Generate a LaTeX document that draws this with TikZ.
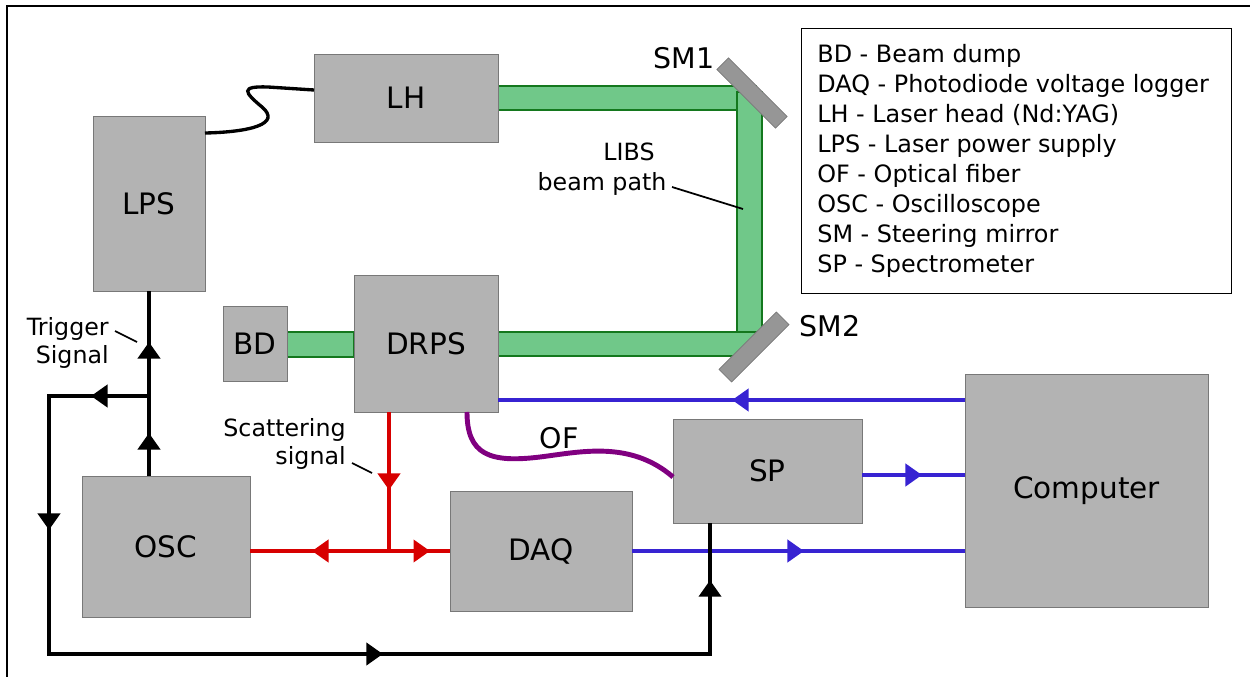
\documentclass[tikz,border=0pt]{standalone}
\usepackage{fontspec}
\setmainfont{DejaVu Sans}
\usetikzlibrary{arrows.meta,decorations.markings}
\definecolor{boxgray}{RGB}{179,179,179}
\definecolor{boxedge}{RGB}{120,120,120}
\definecolor{beamfill}{RGB}{112,200,137}
\definecolor{beamedge}{RGB}{20,120,30}
\definecolor{sigblue}{RGB}{55,35,210}
\definecolor{sigred}{RGB}{215,0,0}
\definecolor{fiber}{RGB}{128,0,128}
\definecolor{mirrorgray}{RGB}{150,150,150}
\begin{document}
\begin{tikzpicture}[x=0.02cm,y=-0.02cm,
  box/.style={draw=boxedge, fill=boxgray, line width=0.5pt, inner sep=0pt, outer sep=0pt, font=\fontsize{16.8}{19}\selectfont},
  mirror/.style={draw=boxedge, fill=mirrorgray, line width=0.4pt, inner sep=0pt, outer sep=0pt},
  beam/.style={draw=beamedge, fill=beamfill, line width=0.8pt},
  sig/.style={line width=2.3pt},
  tipat/.style={postaction={decorate, decoration={markings, mark=at position #1 with {\arrow{Triangle[length=0.33cm,width=0.44cm]}}}}},
  small/.style={font=\fontsize{13.5}{16.3}\selectfont, inner sep=0pt},
  big/.style={font=\fontsize{16.2}{19}\selectfont, inner sep=0pt},
  pointer/.style={line width=1pt},
]
\useasboundingbox (0,0) rectangle (1250,676);
\draw[line width=1.1pt] (7,680) -- (7,6) -- (1255,6);

% beams
\draw[beam] (287,332) rectangle (354,357);
\draw[beam] (498,86) rectangle (756,110);
\draw[beam] (737,92) rectangle (762,340);
\draw[beam] (498,332) rectangle (756,356);

% mirrors
\node[mirror, minimum width=1.66cm, minimum height=0.33cm, rotate=-45] (SM1) at (752,93) {};
\node[mirror, minimum width=1.62cm, minimum height=0.36cm, rotate=45] (SM2) at (754,347) {};

% boxes
\node[box, minimum width=3.68cm, minimum height=1.76cm] (LH) at (406,98) {LH};
\node[box, minimum width=2.24cm, minimum height=3.5cm] (LPS) at (149,203.5) {LPS};
\node[box, minimum width=2.88cm, minimum height=2.74cm] (DRPS) at (426,343.5) {DRPS};
\node[box, minimum width=1.28cm, minimum height=1.5cm] (BD) at (255,343.5) {BD};
\node[box, minimum width=3.36cm, minimum height=2.82cm] (OSC) at (166,546.5) {OSC};
\node[box, minimum width=3.64cm, minimum height=2.4cm] (DAQ) at (541,551) {DAQ};
\node[box, minimum width=3.78cm, minimum height=2.08cm] (SP) at (767.5,471) {SP};
\node[box, minimum width=4.86cm, minimum height=4.66cm] (PC) at (1086.5,490.5) {Computer};

% legend
\node[draw, line width=0.8pt, anchor=north west, minimum width=8.6cm, minimum height=5.3cm,
      inner sep=0pt] (legend) at (801,28) {};
\node[anchor=west, align=left, inner sep=0pt,
      font=\fontsize{13.6}{17.07}\selectfont] (legtext) at ([xshift=0.32cm]legend.west)
  {BD - Beam dump\\
   DAQ - Photodiode voltage logger\\
   LH - Laser head (Nd:YAG)\\
   LPS - Laser power supply\\
   OF - Optical fiber\\
   OSC - Oscilloscope\\
   SM - Steering mirror\\
   SP - Spectrometer};

% labels
\node[big] (SM1l) at (684,58) {SM1};
\node[big] (SM2l) at (830,326) {SM2};
\node[small] (libsA) at (629,152) {LIBS};
\node[small] (libsB) at (602,184) {beam path};
\node[small, align=right, anchor=east] (trig) at (109,343) {Trigger\\Signal};
\node[small, align=right, anchor=east] (scat) at (346,444) {Scattering\\signal};
\node[big] (OFl) at (559,438) {OF};

% pointers
\coordinate (pA1) at (672,187); \coordinate (pA2) at (743,209);
\coordinate (pB1) at (115,331); \coordinate (pB2) at (137,342);
\coordinate (pC1) at (352,463); \coordinate (pC2) at (372,473);
\draw[pointer] (pA1) -- (pA2);
\draw[pointer] (pB1) -- (pB2);
\draw[pointer] (pC1) -- (pC2);

% helper coordinates
\coordinate (jt) at (149,396);
\coordinate (lc) at (49,654);
\coordinate (spin) at (710,523);
\coordinate (rj) at (389,551);
\coordinate (yA) at (0,400);
\coordinate (yB) at (0,475);

% cable LPS - LH
\draw[line width=1.9pt] ([yshift=1.41cm]LPS.east) .. controls (250,132) and (282,124) .. (262,107)
   .. controls (244,92) and (240,86) .. (268,87) -- ([yshift=0.16cm]LH.west);

% optical fiber
\draw[line width=2.8pt, color=fiber] ([xshift=0.82cm]DRPS.south) .. controls (467,455) and (490,463) .. (540,457)
   .. controls (580,452) and (630,440) .. ([yshift=-0.12cm]SP.west);

% blue data lines
\draw[sig, color=sigblue, tipat=4.66cm] (PC.west |- yA) -- (DRPS.east |- yA);
\draw[sig, color=sigblue, tipat=1.2cm] (SP.east |- yB) -- (PC.west |- yB);
\draw[sig, color=sigblue, tipat=3.44cm] (DAQ.east) -- (PC.west |- DAQ.east);

% red scattering signal
\draw[sig, color=sigred, tipat=1.56cm] (rj |- DRPS.south) -- (rj);
\draw[sig, color=sigred, tipat=1.54cm] (rj) -- (OSC.east |- rj);
\draw[sig, color=sigred, tipat=0.82cm] (rj) -- (DAQ.west);

% black trigger lines
\draw[sig, tipat=0.86cm, tipat=2.68cm] (LPS.south |- OSC.north) -- (LPS.south);
\draw[sig, tipat=1.16cm, tipat=4.68cm, tipat=13.84cm, tipat=21.86cm]
  (jt) -- (jt -| lc) -- (lc) -- (lc -| spin) -- (spin);
\end{tikzpicture}
\end{document}
